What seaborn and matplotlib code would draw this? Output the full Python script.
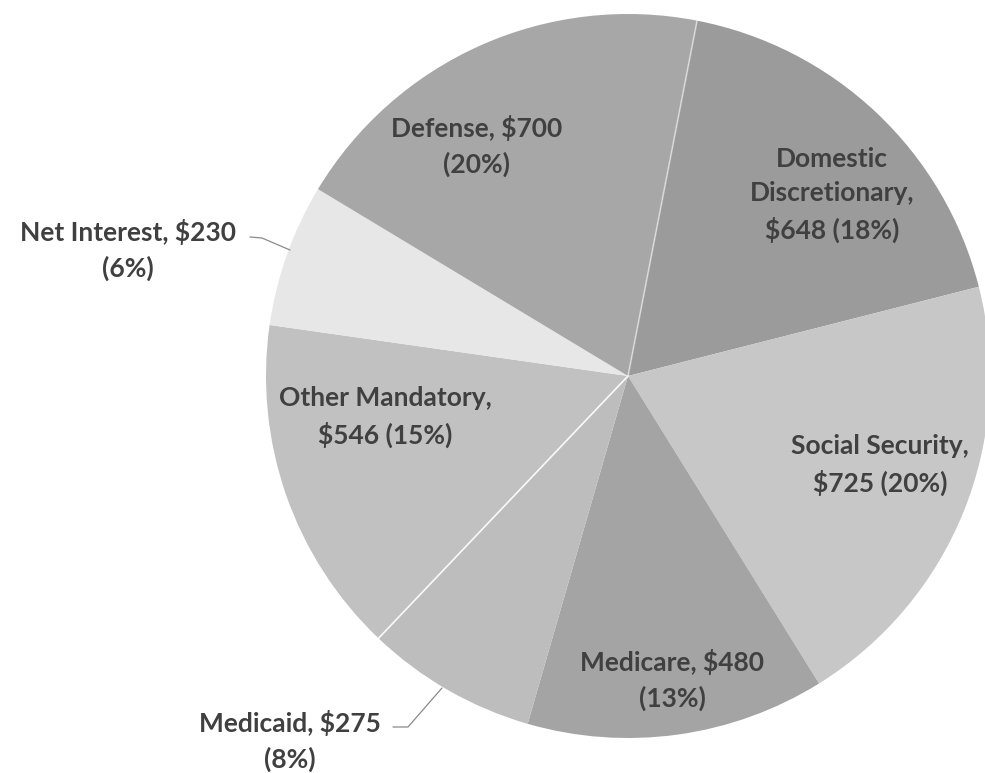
import numpy as np
import pandas as pd
import matplotlib
matplotlib.use("Agg")
import matplotlib.pyplot as plt
import seaborn as sns

sns.set_theme(style="white")
plt.rcParams['font.family'] = ['Lato', 'DejaVu Sans']

# spending categories, clockwise from the top
categories = ["Domestic Discretionary", "Social Security", "Medicare", "Medicaid",
              "Other Mandatory", "Net Interest", "Defense"]
amounts = [648, 725, 480, 275, 546, 230, 700]
shares = [18, 20, 13, 8, 15, 6, 20]
colors = ["#9b9b9b", "#c7c7c7", "#a4a4a4", "#bdbdbd", "#c1c1c1", "#e7e7e7", "#a7a7a7"]
label_text = ["Domestic\nDiscretionary,\n$648 (18%)", "Social Security,\n$725 (20%)",
              "Medicare, $480\n(13%)", "Medicaid, $275\n(8%)", "Other Mandatory,\n$546 (15%)",
              "Net Interest, $230\n(6%)", "Defense, $700\n(20%)"]

df = pd.DataFrame({"category": categories, "amount": amounts, "share": shares})

W, H = 985, 773
R = 362.0          # pie radius in pixels
cx, cy = 628, 376  # pie centre in pixels
start = 79
fig = plt.figure(figsize=(W / 100, H / 100), dpi=100)
ax = fig.add_axes([0, 0, 1, 1])

wedges, _ = ax.pie(df["amount"], colors=colors, startangle=start, counterclock=False,
                   radius=1, wedgeprops=dict(linewidth=0))

# pie() resets the limits, so set them afterwards
ax.set_xlim(-cx / R, (W - cx) / R)
ax.set_ylim(-(H - cy) / R, cy / R)
ax.set_aspect("equal")
ax.set_axis_off()

# faint white seams: Medicaid / Other Mandatory and Defense / Domestic
bounds = start - 360 * np.cumsum(df["amount"]) / df["amount"].sum()
for ang, alpha in [(bounds[3], 0.9), (start, 0.5)]:
    t = np.deg2rad(ang)
    ax.plot([0, np.cos(t)], [0, np.sin(t)], color="white", lw=1.2, alpha=alpha)


def px(x, y):
    return (x - cx) / R, (cy - y) / R


# label centres in pixel coordinates
label_pos = [(832, 195), (880, 465), (672, 680), (290, 741), (385, 417), (128, 250), (477, 146)]
for txt, (x, y) in zip(label_text, label_pos):
    ax.text(*px(x, y), txt, ha="center", va="center", fontsize=19, fontweight="bold",
            color="#404040", linespacing=1.5)

# leader lines for the two outside labels
ax.plot(*zip(px(250, 237), px(262, 238), px(290, 250)), color="#8a8a8a", lw=0.9)
ax.plot(*zip(px(393, 727), px(408, 727), px(442, 688)), color="#8a8a8a", lw=0.9)

fig.savefig("out.png", dpi=100)
